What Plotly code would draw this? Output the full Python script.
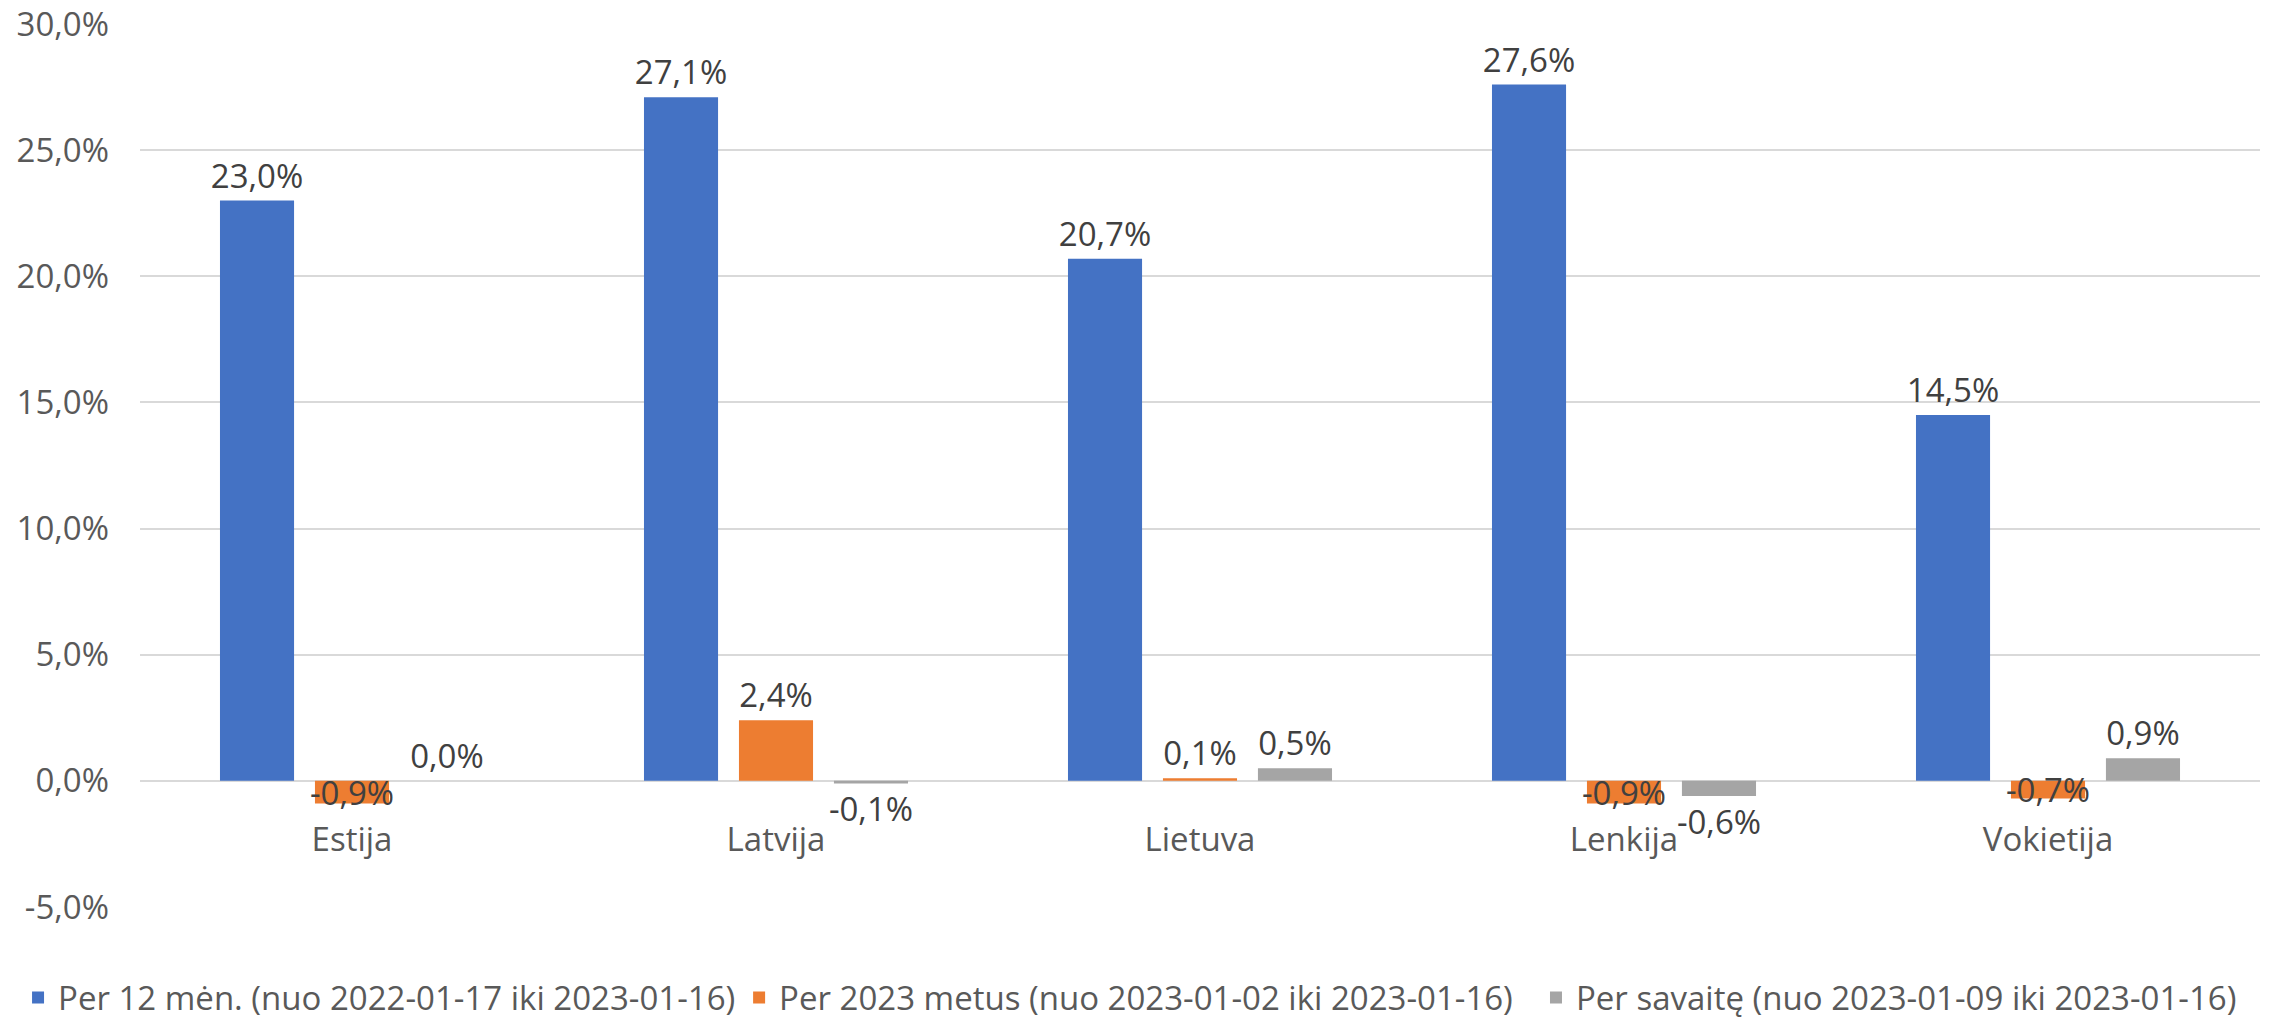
import plotly.graph_objects as go

categories = ["Estija", "Latvija", "Lietuva", "Lenkija", "Vokietija"]
series_names = [
    "Per 12 mėn. (nuo 2022-01-17 iki 2023-01-16)",
    "Per 2023 metus (nuo 2023-01-02 iki 2023-01-16)",
    "Per savaitę (nuo 2023-01-09 iki 2023-01-16)",
]
per_12_men = [23.0, 27.1, 20.7, 27.6, 14.5]
per_2023 = [-0.9, 2.4, 0.1, -0.9, -0.7]
per_savaite = [0.0, -0.1, 0.5, -0.6, 0.9]
colors = ["#4472C4", "#ED7D31", "#A5A5A5"]
y_min, y_max = -5, 30
y_ticks = [-5, 0, 5, 10, 15, 20, 25, 30]


def pct(v):
    return f"{v:.1f}%".replace(".", ",")


FONT = "Open Sans"
FS = 33
legend_ids = ["legend", "legend2", "legend3"]
legend_x = [0.0079, 0.3236, 0.6725]

fig = go.Figure()
for name, vals, col, neg_pos, lid in [
    (series_names[0], per_12_men, colors[0], "outside", legend_ids[0]),
    (series_names[1], per_2023, colors[1], "inside", legend_ids[1]),
    (series_names[2], per_savaite, colors[2], "outside", legend_ids[2]),
]:
    fig.add_trace(go.Bar(
        x=categories, y=vals, name=name, legend=lid,
        marker=dict(color=col, line=dict(width=0)),
        text=[pct(v) for v in vals],
        texttemplate="%{text}",
        textposition=["outside" if v >= 0 else neg_pos for v in vals],
        textfont=dict(family=FONT, size=FS, color="#404040"),
        insidetextfont=dict(family=FONT, size=FS, color="#404040"),
        outsidetextfont=dict(family=FONT, size=FS, color="#404040"),
        constraintext="none",
        cliponaxis=False,
        insidetextanchor="middle",
    ))

legend_common = dict(
    orientation="h",
    xref="container", yref="container",
    xanchor="left",
    y=0.022, yanchor="middle",
    font=dict(family=FONT, size=FS, color="#595959"),
    itemwidth=30,
    bgcolor="rgba(0,0,0,0)",
)

fig.update_layout(
    width=2284, height=1020,
    autosize=False,
    barmode="group",
    bargap=0.328,
    bargroupgap=0.22,
    plot_bgcolor="white",
    paper_bgcolor="white",
    margin=dict(l=140, r=24, t=24, b=113, autoexpand=False),
    font=dict(family=FONT, size=FS, color="#595959"),
    legend=dict(x=legend_x[0], **legend_common),
    legend2=dict(x=legend_x[1], **legend_common),
    legend3=dict(x=legend_x[2], **legend_common),
    showlegend=True,
)
fig.update_yaxes(
    range=[y_min, y_max],
    tickmode="array",
    tickvals=y_ticks,
    ticktext=[pct(v) for v in y_ticks],
    showgrid=True, gridcolor="#D9D9D9", gridwidth=2,
    zeroline=True, zerolinecolor="#D9D9D9", zerolinewidth=2,
    showline=False,
    automargin=False,
    ticklabeloverflow="allow",
    ticklabelstandoff=30,
    tickfont=dict(family=FONT, size=FS, color="#595959"),
)
fig.update_xaxes(
    anchor="free",
    position=(0 - y_min) / (y_max - y_min),
    showgrid=False, showline=False, zeroline=False,
    automargin=False,
    ticklabeloverflow="allow",
    ticks="", ticklabelstandoff=36,
    tickfont=dict(family=FONT, size=FS, color="#595959"),
)

fig.write_html(
    "out.html",
    config={"displayModeBar": False},
    post_script="document.body.style.margin='0';document.body.style.overflow='hidden';",
)
